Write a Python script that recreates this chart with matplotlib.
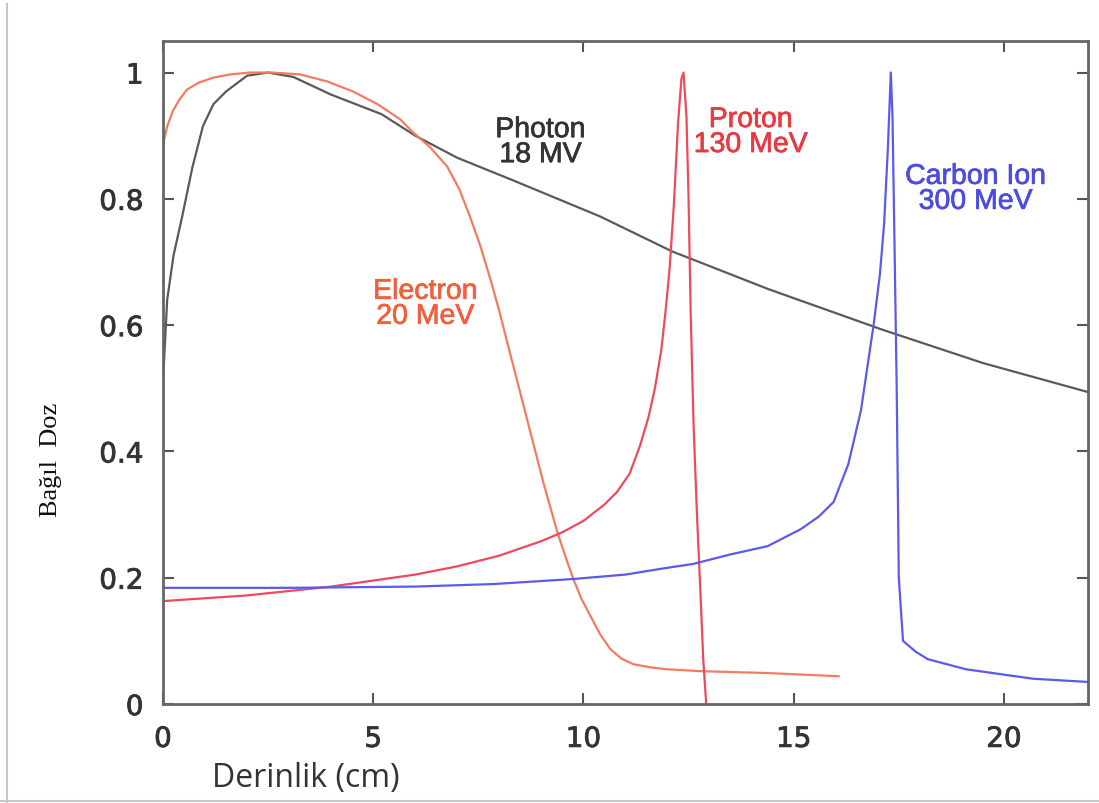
import matplotlib

matplotlib.use("Agg")
import matplotlib.pyplot as plt
import matplotlib.patheffects as pe
from matplotlib.lines import Line2D

# depth (cm) / relative dose
photon_x = [0.0, 0.1, 0.25, 0.45, 0.7, 0.95, 1.2, 1.5, 2.0, 2.5, 3.1, 4.0, 5.2, 6.0, 7.0,
            8.3, 10.4, 12.1, 14.4, 17.1, 19.5, 22.0]
photon_y = [0.51, 0.64, 0.71, 0.77, 0.85, 0.915, 0.95, 0.97, 0.995, 1.0, 0.993, 0.965, 0.934,
            0.90, 0.865, 0.83, 0.772, 0.717, 0.657, 0.593, 0.54, 0.494]

electron_x = [0.0, 0.1, 0.24, 0.4, 0.57, 0.85, 1.2, 1.6, 2.07, 2.6, 3.26, 3.9, 4.52, 5.1, 5.64,
              5.95, 6.35, 6.76, 7.05, 7.3, 7.55, 7.79, 8.0, 8.19, 8.45, 8.74, 9.05, 9.38, 9.6,
              9.76, 9.95, 10.17, 10.4, 10.64, 10.9, 11.19, 11.6, 12.0, 12.8, 14.4, 16.07]
electron_y = [0.885, 0.915, 0.94, 0.958, 0.973, 0.984, 0.992, 0.997, 1.0, 1.0, 0.997, 0.986,
              0.97, 0.95, 0.926, 0.905, 0.882, 0.851, 0.815, 0.772, 0.725, 0.672, 0.622, 0.572,
              0.505, 0.43, 0.35, 0.272, 0.228, 0.198, 0.167, 0.139, 0.11, 0.087, 0.072, 0.063,
              0.058, 0.055, 0.052, 0.049, 0.044]

proton_x = [0.0, 2.0, 4.0, 6.0, 7.0, 8.0, 9.0, 9.5, 10.0, 10.5, 10.8, 11.1, 11.35, 11.55, 11.7,
            11.85, 11.95, 12.05, 12.15, 12.25, 12.33, 12.38, 12.45, 12.5, 12.55, 12.62, 12.7,
            12.78, 12.85, 12.92]
proton_y = [0.163, 0.172, 0.186, 0.205, 0.218, 0.235, 0.258, 0.272, 0.29, 0.316, 0.336, 0.365,
            0.41, 0.455, 0.5, 0.56, 0.62, 0.69, 0.79, 0.92, 0.99, 1.0, 0.93, 0.8, 0.62, 0.44,
            0.3, 0.18, 0.07, 0.0]

carbon_x = [0.0, 3.0, 6.0, 7.86, 9.76, 11.0, 11.83, 12.62, 13.5, 14.38, 15.17, 15.6, 15.95,
            16.3, 16.6, 16.9, 17.05, 17.15, 17.24, 17.31, 17.35, 17.4, 17.45, 17.5, 17.6,
            17.9, 18.19, 19.1, 20.7, 22.0]
carbon_y = [0.184, 0.184, 0.186, 0.19, 0.198, 0.205, 0.214, 0.222, 0.237, 0.25, 0.277, 0.297,
            0.32, 0.38, 0.465, 0.6, 0.68, 0.76, 0.88, 1.0, 0.93, 0.72, 0.5, 0.2, 0.1, 0.083,
            0.071, 0.055, 0.04, 0.035]

labels = ["Photon\n18 MV", "Electron\n20 MeV", "Proton\n130 MeV", "Carbon Ion\n300 MeV"]
label_xy = [(8.98, 0.889), (6.24, 0.633), (13.98, 0.905), (19.33, 0.815)]
line_colors = ["#5a5a5a", "#f27c62", "#ee4a5c", "#5a5aee"]
text_colors = ["#333333", "#f0603e", "#e83a42", "#4c4ce0"]

fig = plt.figure(figsize=(10.99, 8.04), dpi=100)
ax = fig.add_axes([0.1483, 0.1231, 0.8417, 0.8247])

series = [(photon_x, photon_y), (electron_x, electron_y), (proton_x, proton_y), (carbon_x, carbon_y)]
for (xs, ys), c in zip(series, line_colors):
    ax.plot(xs, ys, color=c, lw=1.6, solid_joinstyle="round")

for txt, (tx, ty), c in zip(labels, label_xy, text_colors):
    ax.text(tx, ty, txt, color=c, fontsize=20.5, ha="center", va="center",
            family="Liberation Sans", linespacing=0.95,
            path_effects=[pe.withStroke(linewidth=0.5, foreground=c)])

ax.set_xlim(0, 22)
ax.set_ylim(0, 1.05)
ax.set_xticks([0, 5, 10, 15, 20])
ax.set_yticks([0, 0.2, 0.4, 0.6, 0.8, 1.0])
ax.set_xticklabels(["0", "5", "10", "15", "20"])
ax.set_yticklabels(["0", "0.2", "0.4", "0.6", "0.8", "1"])
ax.tick_params(direction="in", length=8, width=1.5, color="#555555", top=True, right=True,
               labelsize=20, labelcolor="#333333")
ax.tick_params(axis="y", pad=14)
ax.tick_params(axis="x", pad=15)
for lab in ax.get_xticklabels() + ax.get_yticklabels():
    lab.set_family("DejaVu Sans")
    lab.set_path_effects([pe.withStroke(linewidth=0.6, foreground="#333333")])
for s in ax.spines.values():
    s.set_color("#666666")
    s.set_linewidth(2)

fig.text(0.046, 0.428, "Bağıl  Doz", rotation=90, ha="center", va="center",
         family="Liberation Serif", fontsize=19, color="#111111")
fig.text(0.193, 0.032, "Derinlik (cm)", ha="left", va="center",
         family="Open Sans", fontsize=23, color="#333333")

# screenshot frame edges
fig.add_artist(Line2D([0.0064, 0.0064], [0.0, 0.994], transform=fig.transFigure,
                      color="#c8c8c8", lw=1.5))
fig.add_artist(Line2D([0.0, 1.0], [0.003, 0.003], transform=fig.transFigure,
                      color="#c8c8c8", lw=1.5))

fig.savefig("out.png", dpi=100)
plt.close(fig)
